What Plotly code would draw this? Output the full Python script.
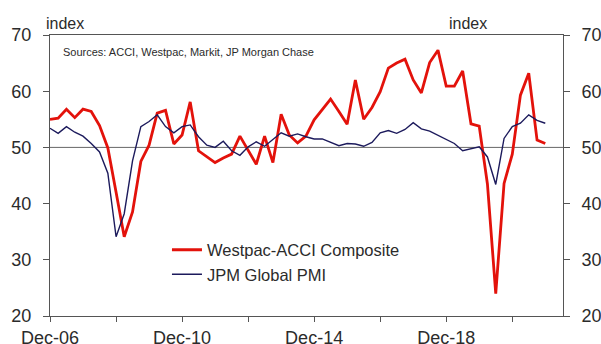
import pandas as pd
import plotly.graph_objects as go

# Quarterly dates, Dec-06 .. Dec-21
dates = pd.date_range("2006-12-01", periods=61, freq="3MS")

westpac_acci = [55.0, 55.2, 56.8, 55.3, 56.8, 56.4, 53.9, 49.9, 42.0, 34.1,
                38.5, 47.5, 50.4, 56.1, 56.6, 50.6, 52.2, 58.1, 49.4, 48.3,
                47.3, 48.1, 48.8, 52.0, 49.5, 47.0, 52.0, 47.3, 55.9, 52.2,
                50.8, 52.0, 54.9, 56.8, 58.6, 56.4, 54.1, 62.0, 55.0, 57.1,
                59.9, 64.1, 65.0, 65.7, 62.0, 59.7, 65.1, 67.3, 60.9, 60.9,
                63.6, 54.2, 53.8, 43.5, 24.0, 43.6, 48.8, 59.3, 63.2, 51.3,
                50.7]

jpm_pmi = [53.4, 52.5, 53.7, 52.7, 52.0, 50.7, 49.2, 45.4, 34.1, 38.2,
           47.6, 53.7, 54.6, 55.8, 53.7, 52.6, 53.7, 54.0, 51.9, 50.4,
           50.0, 51.1, 49.4, 48.6, 50.1, 51.0, 50.2, 51.4, 52.6, 52.0,
           52.4, 51.9, 51.5, 51.5, 50.9, 50.3, 50.7, 50.6, 50.2, 50.9,
           52.6, 53.0, 52.5, 53.2, 54.4, 53.3, 52.9, 52.2, 51.5, 50.7,
           49.4, 49.7, 50.1, 48.3, 43.4, 51.6, 53.7, 54.3, 55.8, 54.8,
           54.3]

tick_dates = ["2006-12-01", "2008-12-01", "2010-12-01", "2012-12-01",
              "2014-12-01", "2016-12-01", "2018-12-01", "2020-12-01"]
tick_text = ["Dec-06", "", "Dec-10", "", "Dec-14", "", "Dec-18", ""]
y_ticks = [20, 30, 40, 50, 60, 70]

FONT = "Liberation Sans, Arial, sans-serif"
TXT = "#2b2b2b"
AX = "#555555"

fig = go.Figure()
fig.add_trace(go.Scatter(x=dates, y=westpac_acci, mode="lines",
                         name="Westpac-ACCI Composite",
                         line=dict(color="#e3120b", width=2.8)))
fig.add_trace(go.Scatter(x=dates, y=jpm_pmi, mode="lines",
                         name="JPM Global PMI",
                         line=dict(color="#1c1a5c", width=1.4)))
# invisible trace to carry the right-hand axis
fig.add_trace(go.Scatter(x=dates, y=jpm_pmi, mode="lines", yaxis="y2",
                         showlegend=False, hoverinfo="skip",
                         line=dict(color="rgba(0,0,0,0)", width=0)))

fig.add_shape(type="line", xref="paper", x0=0, x1=1, yref="y", y0=50, y1=50,
              line=dict(color="#666666", width=1), layer="below")

fig.add_annotation(text="Sources: ACCI, Westpac, Markit, JP Morgan Chase",
                   xref="paper", yref="paper", x=0.021, y=0.94,
                   xanchor="left", yanchor="middle", showarrow=False,
                   font=dict(size=11, color=TXT, family=FONT))
fig.add_annotation(text="index", xref="paper", yref="paper", x=-0.012, y=1.0,
                   xanchor="left", yanchor="bottom", showarrow=False,
                   yshift=1, font=dict(size=16, color=TXT, family=FONT))
fig.add_annotation(text="index", xref="paper", yref="paper", x=0.856, y=1.0,
                   xanchor="right", yanchor="bottom", showarrow=False,
                   yshift=1, font=dict(size=16, color=TXT, family=FONT))

fig.update_layout(
    width=601, height=344,
    margin=dict(l=50, r=38, t=35, b=28),
    plot_bgcolor="white", paper_bgcolor="white",
    font=dict(family=FONT, color=TXT, size=18),
    showlegend=True,
    legend=dict(x=0.228, y=0.297, xanchor="left", yanchor="top",
                bgcolor="rgba(0,0,0,0)", font=dict(size=16.5, color=TXT),
                tracegroupgap=6),
    xaxis=dict(type="date", range=["2006-12-01", "2022-06-15"],
               tickmode="array", tickvals=tick_dates, ticktext=tick_text,
               ticks="outside", ticklen=5, tickcolor=AX, automargin=False,
               showline=True, linecolor=AX, linewidth=1, mirror=True,
               showgrid=False, zeroline=False,
               tickfont=dict(size=18, color=TXT), ticklabelstandoff=0),
    yaxis=dict(range=[20, 70], tickvals=y_ticks, ticks="outside", ticklen=6,
               tickcolor=AX, showline=True, linecolor=AX, linewidth=1,
               showgrid=False, zeroline=False, automargin=False,
               tickfont=dict(size=18, color=TXT), ticklabelstandoff=8),
    yaxis2=dict(range=[20, 70], tickvals=y_ticks, overlaying="y", side="right",
                ticks="outside", ticklen=6, tickcolor=AX, showline=True,
                linecolor=AX, linewidth=1, showgrid=False, zeroline=False,
                automargin=False,
                tickfont=dict(size=18, color=TXT), ticklabelstandoff=8),
)

fig.write_html("out.html")
